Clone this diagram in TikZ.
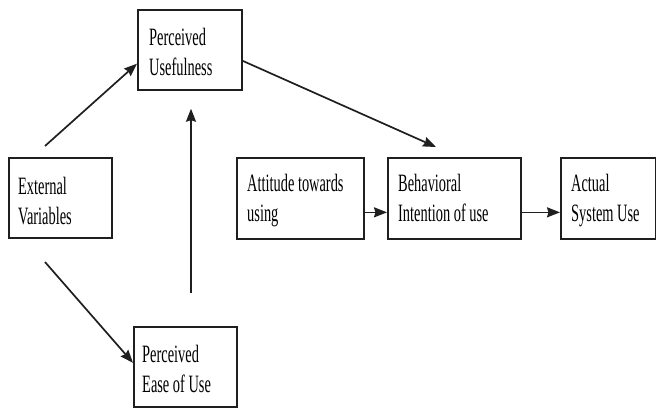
\documentclass[tikz,border=0pt]{standalone}
\usepackage{fontspec}
\setmainfont{Liberation Serif}
\usetikzlibrary{calc,arrows.meta}
\newcommand{\sqtext}[1]{\scalebox{0.6}[1.04]{\fontsize{24}{28.5}\selectfont\begin{tabular}{@{}l@{}}#1\end{tabular}}}
\tikzset{
  box/.style={draw=black!88, line width=1.7pt, anchor=north west, inner sep=0pt},
  lbl/.style={anchor=north west, inner sep=0pt, text=black},
  arr/.style={draw=black!88, line width=1.7pt, -{Stealth[length=13pt,width=10pt,inset=1.5pt]}}
}
\begin{document}
\begin{tikzpicture}[x=1pt,y=-1pt]
\useasboundingbox (0,0) rectangle (656,407);
% boxes
\node[box, minimum width=104pt, minimum height=80pt] (pu) at (137,9) {};
\node[box, minimum width=103pt, minimum height=80pt] (ext) at (8,157) {};
\node[box, minimum width=127pt, minimum height=81pt] (att) at (236,157) {};
\node[box, minimum width=133pt, minimum height=81pt] (bi) at (387,157) {};
\node[box, minimum width=95pt, minimum height=81pt] (asu) at (560,157) {};
\node[box, minimum width=103pt, minimum height=80pt] (peou) at (133,326) {};
% labels
\node[lbl] (tpu) at ($(pu.north west)+(12,16)$) {\sqtext{Perceived\\Usefulness}};
\node[lbl] (text) at ($(ext.north west)+(10,17)$) {\sqtext{External\\Variables}};
\node[lbl] (tatt) at ($(att.north west)+(11,14)$) {\sqtext{Attitude towards\\using}};
\node[lbl] (tbi) at ($(bi.north west)+(11,14)$) {\sqtext{Behavioral\\Intention of use}};
\node[lbl] (tasu) at ($(asu.north west)+(11,14)$) {\sqtext{Actual\\System Use}};
\node[lbl] (tpeou) at ($(peou.north west)+(9,16)$) {\sqtext{Perceived\\Ease of Use}};
% connectors
\coordinate (e1) at (45,146);
\coordinate (e2) at (45,262);
\coordinate (v1) at (191,293);
\draw[arr] (e1) -- ($(pu.south west)+(0,-27)$);
\draw[arr] (e2) -- ($(peou.west)+(0,-4)$);
\draw[arr, shorten >=18pt] (v1) -- (v1 |- pu.south);
\draw[arr] ($(pu.east)+(0,11)$) -- ($(bi.north west)+(49,-10)$);
\draw[arr] ($(att.east)+(0,14)$) -- ($(bi.west)+(0,14)$);
\draw[arr] ($(bi.east)+(0,14)$) -- ($(asu.west)+(0,14)$);
\end{tikzpicture}
\end{document}
